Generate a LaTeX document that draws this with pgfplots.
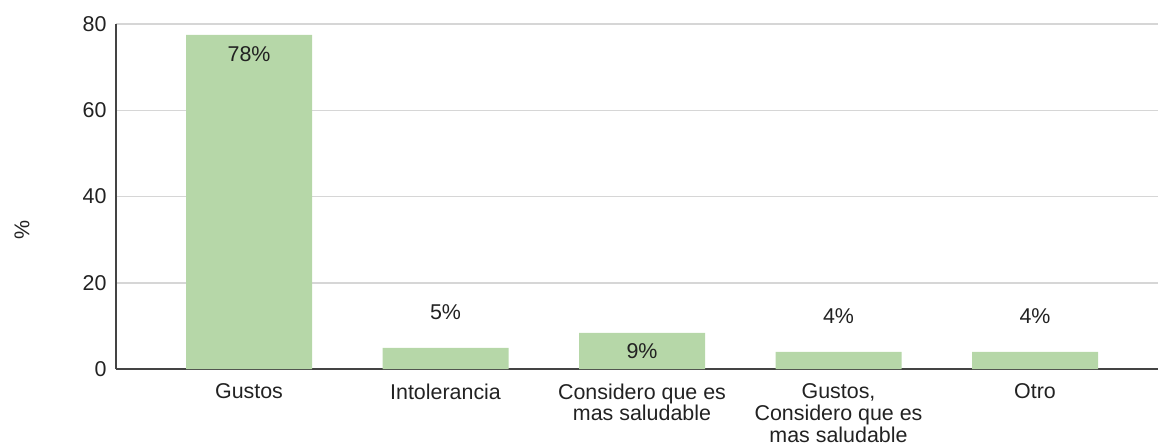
\documentclass[border=0pt]{standalone}
\usepackage{fontspec}
\setmainfont{Liberation Sans}
\usepackage{pgfplots}
\pgfplotsset{compat=1.18}
\definecolor{barg}{HTML}{B6D7A8}
\definecolor{gridg}{HTML}{D6D6D6}
\definecolor{axisc}{HTML}{444444}
\definecolor{txt}{HTML}{222222}
\begin{document}
\begin{tikzpicture}
\useasboundingbox (-116bp,-77bp) rectangle (1042bp,369bp);
\begin{axis}[
  scale only axis, width=1042bp, height=345bp,
  xmin=-0.677, xmax=4.626, ymin=0, ymax=80,
  axis x line*=bottom, axis y line*=left,
  axis line style={axisc, line width=1.5bp},
  ytick={0,20,40,60,80}, xtick={0,1,2,3,4},
  xticklabels={Gustos, Intolerancia, {Considero que es\\mas saludable}, {Gustos,\\Considero que es\\mas saludable}, Otro},
  xticklabel style={align=center, font=\fontsize{21.5}{22}\selectfont, text=txt, yshift=-11bp},
  yticklabel style={font=\fontsize{21.5}{22}\selectfont, text=txt, xshift=-6bp},
  /pgf/number format/assume math mode=true,
  major tick length=0pt,
  ymajorgrids, grid style={gridg, line width=1.5bp},
  ylabel={\%},
  ylabel style={at={(axis description cs:-0.0902,0.403)}, anchor=center, rotate=0, font=\fontsize{21.5}{22}\selectfont, text=txt},
]
\addplot[ybar, bar width=126bp, fill=barg, draw=none] coordinates {(0,77.5) (1,4.9) (2,8.4) (3,4.0) (4,4.0)};
\addplot[draw=none, mark=none, nodes near coords, point meta=explicit symbolic,
  every node near coord/.append style={anchor=center, font=\fontsize{21.5}{22}\selectfont, text=txt}]
  coordinates {(0,73.1)[78\%] (1,13.1)[5\%] (2,4.2)[9\%] (3,12.2)[4\%] (4,12.2)[4\%]};
\end{axis}
\end{tikzpicture}
\end{document}
